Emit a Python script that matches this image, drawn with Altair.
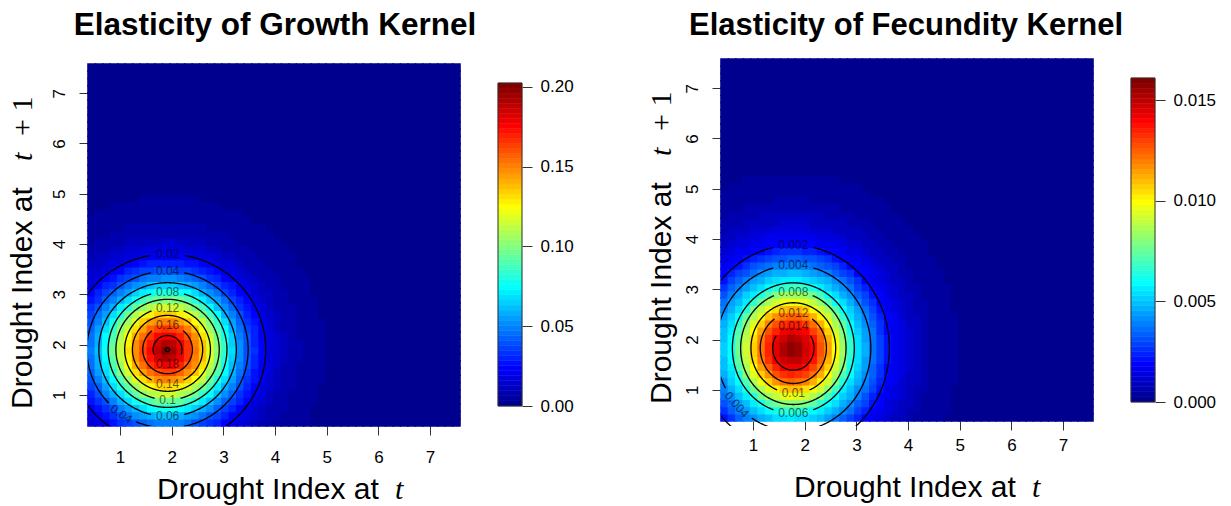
import numpy as np
import pandas as pd
import altair as alt

# 64-step colour table (dark blue -> cyan -> yellow -> dark red)
JET64 = [
    "#00008F", "#00009F", "#0000AF", "#0000BF", "#0000CF", "#0000DF", "#0000EF", "#0000FF",
    "#0010FF", "#0020FF", "#0030FF", "#0040FF", "#0050FF", "#0060FF", "#0070FF", "#0080FF",
    "#008FFF", "#009FFF", "#00AFFF", "#00BFFF", "#00CFFF", "#00DFFF", "#00EFFF", "#00FFFF",
    "#10FFEF", "#20FFDF", "#30FFCF", "#40FFBF", "#50FFAF", "#60FF9F", "#70FF8F", "#80FF80",
    "#8FFF70", "#9FFF60", "#AFFF50", "#BFFF40", "#CFFF30", "#DFFF20", "#EFFF10", "#FFFF00",
    "#FFEF00", "#FFDF00", "#FFCF00", "#FFBF00", "#FFAF00", "#FF9F00", "#FF8F00", "#FF8000",
    "#FF7000", "#FF6000", "#FF5000", "#FF4000", "#FF3000", "#FF2000", "#FF1000", "#FF0000",
    "#EF0000", "#DF0000", "#CF0000", "#BF0000", "#AF0000", "#9F0000", "#8F0000", "#800000",
]

# drought-index mesh (cell edges span the plotted range)
GRID_LO, GRID_HI, GRID_N = 0.38, 7.58, 50
AXIS_TICKS = [1, 2, 3, 4, 5, 6, 7]

# growth kernel elasticity: peak location, vertical stretch, radial profile
GROWTH_CENTER = [1.92, 1.90]
GROWTH_STRETCH = 1.0
GROWTH_LEVELS = [0.2025, 0.20, 0.18, 0.16, 0.14, 0.12, 0.10, 0.08, 0.06, 0.04, 0.02, 0.01, 0.006, 0.003, 0.001, 0.0]
GROWTH_RADII = [0.00, 0.04, 0.28, 0.48, 0.68, 0.83, 1.00, 1.15, 1.33, 1.56, 1.90, 2.25, 2.60, 3.10, 3.60, 4.80]
GROWTH_ZMAX = 0.2025
GROWTH_CONTOURS = [0.02, 0.04, 0.06, 0.08, 0.10, 0.12, 0.14, 0.16, 0.18, 0.20]
GROWTH_CONTOUR_TEXT = ["0.02", "0.04", "0.06", "0.08", "0.1", "0.12", "0.14", "0.16", "0.18", ""]
GROWTH_LABEL_ANGLES = [[90], [90, 235], [270], [90], [270], [90], [270], [90], [270], []]
GROWTH_BAR_TICKS = [0.0, 0.05, 0.10, 0.15, 0.20]

# fecundity kernel elasticity
FEC_CENTER = [1.78, 1.83]
FEC_STRETCH = 1.10
FEC_LEVELS = [0.0161, 0.014, 0.012, 0.010, 0.008, 0.006, 0.004, 0.002, 0.001, 0.0005, 0.00025, 0.0]
FEC_RADII = [0.00, 0.40, 0.64, 0.82, 1.02, 1.18, 1.50, 1.86, 2.30, 2.70, 3.20, 4.20]
FEC_ZMAX = 0.0161
FEC_CONTOURS = [0.002, 0.004, 0.006, 0.008, 0.010, 0.012, 0.014]
FEC_CONTOUR_TEXT = ["0.002", "0.004", "0.006", "0.008", "0.01", "0.012", "0.014"]
FEC_LABEL_ANGLES = [[90], [90, 223], [270], [90], [270], [90], [90]]
FEC_BAR_TICKS = [0.0, 0.005, 0.010, 0.015]

# layout
PLOT_W, PLOT_H = 372, 367
PX_X, PX_Y = 51.7, 50.2          # pixels per index unit
LABEL_PX = 12                    # contour label font size
SANS = "Liberation Sans"
SERIF = "Liberation Serif"


def surface_cells(center, stretch, levels, radii):
    edges = np.linspace(GRID_LO, GRID_HI, GRID_N + 1)
    mids = (edges[:-1] + edges[1:]) / 2
    lv, rd = np.array(levels), np.array(radii)
    rows = []
    for i in range(GRID_N):
        for j in range(GRID_N):
            d = np.hypot(mids[i] - center[0], (mids[j] - center[1]) / stretch)
            rows.append((edges[i], edges[i + 1], edges[j], edges[j + 1], float(np.interp(d, rd, lv))))
    return pd.DataFrame(rows, columns=["x0", "x1", "y0", "y1", "v"])


def contour_data(center, stretch, levels, radii, contours, texts, label_angles):
    cx, cy = center
    lv, rd = np.array(levels)[::-1], np.array(radii)[::-1]
    paths, labels = [], []
    seg = 0
    for lev, txt, angs in zip(contours, texts, label_angles):
        r = float(np.interp(lev, lv, rd))
        spots = []
        half = len(txt) * 0.5 * 0.556 * LABEL_PX + 3
        for a in angs:
            t = np.radians(a)
            lx, ly = cx + r * np.cos(t), cy + stretch * r * np.sin(t)
            dx, dy = -PX_X * r * np.sin(t), -PX_Y * stretch * r * np.cos(t)
            ang = np.degrees(np.arctan2(dy, dx))
            ang = ((ang + 90) % 180 - 90) % 360
            spots.append((lx, ly))
            labels.append({"x": lx, "y": ly, "txt": txt, "ang": float(ang)})
        start = np.radians(angs[0]) if angs else 0.0
        theta = start + np.linspace(0, 2 * np.pi, 721)
        xs = cx + r * np.cos(theta)
        ys = cy + stretch * r * np.sin(theta)
        open_run = False
        for k, (x, y) in enumerate(zip(xs, ys)):
            keep = all(np.hypot((x - lx) * PX_X, (y - ly) * PX_Y) > half for lx, ly in spots)
            if keep:
                if not open_run:
                    seg += 1
                    open_run = True
                paths.append({"x": x, "y": y, "seg": f"s{seg}", "ord": k})
            else:
                open_run = False
    return pd.DataFrame(paths), pd.DataFrame(labels)


def color_bins(zmax):
    step = zmax / len(JET64)
    lo = np.arange(len(JET64)) * step
    return pd.DataFrame({"lo": lo, "hi": lo + step, "mid": lo + step / 2})


def text_layer(s, x, y, font=SANS, size=30, weight="normal", style="normal", angle=0, align="left"):
    return alt.Chart(pd.DataFrame({"s": [s]})).mark_text(
        font=font, fontSize=size, fontWeight=weight, fontStyle=style, angle=angle,
        align=align, baseline="alphabetic", color="black",
    ).encode(x=alt.value(x), y=alt.value(y), text="s:N")


def panel(title, center, stretch, levels, radii, zmax, contours, ctext, cangles, bar_ticks, bar_fmt,
          y_range, x_axis_offset, x_label_pad, bar_range, title_x, title_size, xt, yt):
    cells = surface_cells(center, stretch, levels, radii)
    paths, labs = contour_data(center, stretch, levels, radii, contours, ctext, cangles)

    xs = alt.Scale(domain=[GRID_LO, GRID_HI], nice=False, zero=False)
    ys = alt.Scale(domain=[GRID_LO, GRID_HI], nice=False, zero=False, range=y_range)
    cs = alt.Scale(type="quantize", domain=[0, zmax], range=JET64, nice=False)
    common = dict(title=None, grid=False, domain=False, tickColor="#333", tickSize=9,
                  labelFont=SANS, labelFontSize=17, labelColor="black", values=AXIS_TICKS, format="d")
    xaxis = alt.Axis(labelPadding=x_label_pad, offset=x_axis_offset, **common)
    yaxis = alt.Axis(labelPadding=15, labelAngle=270, labelAlign="center", labelBaseline="alphabetic", **common)

    heat = alt.Chart(cells).mark_rect(strokeWidth=1.6).encode(
        x=alt.X("x0:Q", scale=xs, axis=xaxis), x2="x1",
        y=alt.Y("y0:Q", scale=ys, axis=yaxis), y2="y1",
        color=alt.Color("v:Q", scale=cs, legend=None),
        stroke=alt.Stroke("v:Q", scale=cs, legend=None),
    )
    lines = alt.Chart(paths).mark_line(color="black", strokeWidth=1.3, clip=True).encode(
        x=alt.X("x:Q", scale=xs, axis=xaxis), y=alt.Y("y:Q", scale=ys, axis=yaxis),
        detail="seg:N", order="ord:Q",
    )
    texts = alt.Chart(labs).mark_text(font=SANS, fontSize=LABEL_PX, color="black", opacity=0.6,
                                      align="center", baseline="middle").encode(
        x=alt.X("x:Q", scale=xs, axis=xaxis), y=alt.Y("y:Q", scale=ys, axis=yaxis),
        text="txt:N", angle=alt.Angle("ang:Q", scale=None),
    )
    deco = [
        text_layer(title, title_x, -24, size=title_size, weight="bold", align="center"),
        text_layer("Drought Index at", xt[0], xt[2]),
        text_layer("t", xt[1], xt[2], font=SERIF, style="italic"),
        text_layer("Drought Index at", yt[0], yt[1], angle=270),
        text_layer("t", yt[0], yt[2], font=SERIF, style="italic", angle=270),
        text_layer("+ 1", yt[0], yt[3], font=SERIF, angle=270),
    ]
    main = alt.layer(heat, lines, texts, *deco)

    bs = alt.Scale(domain=[0, zmax], range=bar_range, nice=False, zero=False)
    baxis = alt.Axis(orient="right", offset=62, values=bar_ticks, format=bar_fmt, title=None, grid=False,
                     domain=False, tickSize=10, tickColor="#333", labelFont=SANS, labelFontSize=17,
                     labelColor="black", labelPadding=8)
    bins = color_bins(zmax)
    bar = alt.Chart(bins).mark_rect(strokeWidth=0.5).encode(
        x=alt.value(PLOT_W + 38), x2=alt.value(PLOT_W + 62),
        y=alt.Y("lo:Q", scale=bs, axis=baxis), y2="hi",
        color=alt.Color("mid:Q", scale=cs, legend=None),
        stroke=alt.Stroke("mid:Q", scale=cs, legend=None),
    )
    frame = alt.Chart(pd.DataFrame({"lo": [0.0], "hi": [zmax]})).mark_rect(
        fillOpacity=0, stroke="#333", strokeWidth=1).encode(
        x=alt.value(PLOT_W + 38), x2=alt.value(PLOT_W + 62),
        y=alt.Y("lo:Q", scale=bs, axis=baxis), y2="hi",
    )
    side = alt.layer(bar, frame)
    return alt.layer(main, side).resolve_scale(y="independent").properties(width=PLOT_W, height=PLOT_H)


left = panel("Elasticity of Growth Kernel", GROWTH_CENTER, GROWTH_STRETCH, GROWTH_LEVELS, GROWTH_RADII,
             GROWTH_ZMAX, GROWTH_CONTOURS, GROWTH_CONTOUR_TEXT, GROWTH_LABEL_ANGLES, GROWTH_BAR_TICKS, ".2f",
             y_range=[367, 5], x_axis_offset=0, x_label_pad=14, bar_range=[347, 24], title_x=187,
             title_size=31.5, xt=(69, 307, 440), yt=(-56, 350, 102, 77))
right = panel("Elasticity of Fecundity Kernel", FEC_CENTER, FEC_STRETCH, FEC_LEVELS, FEC_RADII,
              FEC_ZMAX, FEC_CONTOURS, FEC_CONTOUR_TEXT, FEC_LABEL_ANGLES, FEC_BAR_TICKS, ".3f",
              y_range=[362, 0], x_axis_offset=-5, x_label_pad=7, bar_range=[343, 19], title_x=185,
              title_size=31, xt=(73, 311, 438), yt=(-50, 345, 97, 72))

chart = alt.hconcat(left, right, spacing=72).resolve_scale(
    color="independent", stroke="independent"
).properties(
    padding={"left": 7, "top": 9, "right": 0, "bottom": 0}, background="white"
).configure_view(stroke="transparent")

chart.save("out.html", embed_options={"renderer": "svg", "actions": False})
